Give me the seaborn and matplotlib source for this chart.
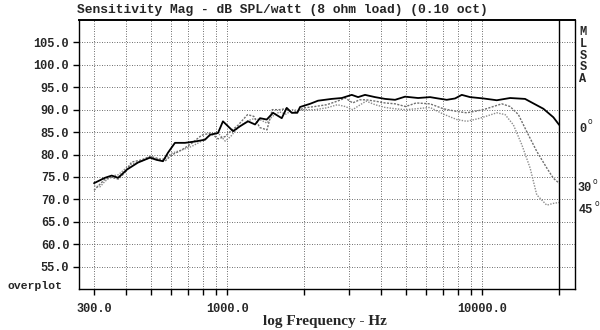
import matplotlib
matplotlib.use("Agg")
import matplotlib.pyplot as plt
import matplotlib.ticker as mticker
import numpy as np
import pandas as pd
import seaborn as sns

# On-axis (0 deg) sensitivity, 1/10-octave smoothed
freq_0 = [300, 331, 352, 373, 403, 446, 497, 528, 559, 585, 623, 682, 747, 817,
          855, 919, 961, 1053, 1121, 1205, 1284, 1343, 1427, 1510, 1634, 1709,
          1788, 1880, 1928, 2109, 2267, 2566, 2809, 3074, 3255, 3466, 3794, 4153,
          4546, 4975, 5594, 6233, 6701, 7248, 7812, 8300, 8947, 10090, 11385,
          12840, 14695, 15840, 17343, 18978, 20000]
spl_0 = [73.6, 74.8, 75.3, 74.8, 76.6, 78.2, 79.3, 78.8, 78.5, 80.4, 82.6, 82.6,
         82.9, 83.3, 84.4, 84.8, 87.4, 85.2, 86.3, 87.4, 86.7, 88.1, 87.8, 89.3,
         88.1, 90.4, 89.3, 89.3, 90.6, 91.3, 92.0, 92.4, 92.6, 93.3, 92.8, 93.3,
         92.8, 92.4, 92.2, 92.9, 92.6, 92.8, 92.5, 92.2, 92.5, 93.3, 92.8, 92.5,
         92.1, 92.6, 92.4, 91.4, 90.2, 88.3, 86.6]

# 30 deg off-axis
freq_30 = [300, 317, 331, 352, 374, 397, 421, 461, 497, 528, 569, 605, 662, 725,
           793, 860, 920, 980, 1030, 1100, 1200, 1270, 1340, 1430, 1500, 1600,
           1700, 1800, 1900, 2000, 2200, 2450, 2700, 2900, 3100, 3300, 3500, 3800,
           4150, 4550, 5000, 5500, 6233, 7033, 7933, 8683, 10090, 11913, 12840,
           13840, 14925, 16335, 17880, 18978, 20000]
spl_30 = [72.0, 73.4, 74.5, 74.9, 74.5, 76.0, 78.3, 78.8, 79.6, 79.2, 78.5, 79.9,
          81.0, 82.5, 84.3, 84.8, 83.5, 84.0, 85.2, 86.5, 88.9, 88.5, 86.0, 85.5,
          90.0, 90.0, 90.2, 89.3, 89.8, 90.4, 90.7, 91.1, 91.9, 92.6, 91.5, 92.2,
          92.2, 91.9, 91.5, 91.3, 90.7, 91.5, 91.3, 90.2, 89.6, 89.3, 90.0, 91.3,
          90.7, 88.9, 85.1, 80.7, 77.0, 74.7, 73.6]

# 45 deg off-axis
freq_45 = [300, 317, 331, 352, 374, 397, 421, 461, 497, 528, 569, 605, 662, 725,
           793, 860, 920, 980, 1030, 1100, 1200, 1270, 1340, 1430, 1500, 1600,
           1700, 1800, 1900, 2000, 2200, 2450, 2700, 2900, 3100, 3300, 3500, 3800,
           4150, 4550, 5000, 5500, 6233, 7033, 7933, 8683, 9796, 11385, 12276,
           13230, 14268, 15381, 16335, 17880, 18978, 20000]
spl_45 = [73.0, 72.8, 74.0, 75.2, 75.5, 76.8, 77.8, 78.5, 79.3, 79.0, 79.0, 80.3,
          81.0, 81.8, 83.0, 84.3, 84.8, 83.0, 84.0, 86.0, 87.5, 88.0, 87.8, 87.0,
          88.5, 89.5, 89.0, 90.0, 89.8, 90.0, 90.0, 90.4, 91.1, 90.7, 90.0, 91.0,
          91.9, 91.1, 90.5, 90.2, 90.0, 90.2, 90.5, 89.0, 87.8, 87.4, 88.1, 89.3,
          88.9, 86.6, 82.2, 77.0, 71.0, 68.7, 69.1, 69.3]

grid_freqs = [300, 400, 500, 600, 700, 800, 900, 1000, 2000, 3000, 4000, 5000,
              6000, 7000, 8000, 9000, 10000, 20000]
freq_labels = {300: "300.0", 1000: "1000.0", 10000: "10000.0"}
db_ticks = [55, 60, 65, 70, 75, 80, 85, 90, 95, 100, 105]

title_text = "Sensitivity Mag - dB SPL/watt (8 ohm load) (0.10 oct)"
xlabel_text = "log Frequency - Hz"
side_letters = ["M", "L", "S", "S", "A"]
angle_labels = ["0", "30", "45"]

sns.set_style("white")
plt.rcParams["font.family"] = ["Liberation Mono", "DejaVu Sans Mono"]

W, H = 600, 330
fig = plt.figure(figsize=(W / 100, H / 100), dpi=100)
ax = fig.add_axes([79 / W, 1 - 289 / H, (575 - 79) / W, (289 - 20) / H])

frames = [
    pd.DataFrame({"freq": freq_0, "spl": spl_0}),
    pd.DataFrame({"freq": freq_30, "spl": spl_30}),
    pd.DataFrame({"freq": freq_45, "spl": spl_45}),
]

sns.lineplot(data=frames[2], x="freq", y="spl", ax=ax, color="#8c8c8c",
             linestyle=(0, (1, 1)), lw=1.0, sort=False)
sns.lineplot(data=frames[1], x="freq", y="spl", ax=ax, color="#707070",
             linestyle=(0, (1.5, 1)), lw=1.0, sort=False)
sns.lineplot(data=frames[0], x="freq", y="spl", ax=ax, color="black",
             lw=1.3, sort=False)

ax.set_xscale("log")
ax.set_xlim(262, 23070)
ax.set_ylim(50, 110)

ax.xaxis.set_major_locator(mticker.FixedLocator(grid_freqs))
ax.xaxis.set_minor_locator(mticker.NullLocator())
ax.xaxis.set_major_formatter(
    mticker.FixedFormatter([freq_labels.get(f, "") for f in grid_freqs]))
ax.yaxis.set_major_locator(mticker.FixedLocator(db_ticks))
ax.yaxis.set_major_formatter(mticker.FormatStrFormatter("%.1f"))

ax.grid(True, which="major", color="#3a3a3a", linestyle=(0, (1, 2)), lw=0.6)
ax.axvline(20000, color="black", lw=1.0)

ax.tick_params(axis="both", which="major", direction="out", length=4,
               width=1, color="black", pad=3)
ax.tick_params(axis="y", left=True, labelsize=8.6)
ax.tick_params(axis="x", bottom=True, labelsize=8.6, pad=6)
for lab in ax.get_xticklabels() + ax.get_yticklabels():
    lab.set_fontweight("bold")

for s in ax.spines.values():
    s.set_visible(True)
    s.set_color("black")
    s.set_linewidth(1.0)
ax.spines["top"].set_linewidth(1.4)

ax.set_xlabel("")
ax.set_ylabel("")

fig.text(282 / W, 1 - 10 / H, title_text, ha="center", va="center",
         fontsize=9.4, fontweight="bold")
fig.text(325 / W, 1 - 322 / H, xlabel_text, ha="center", va="center",
         fontsize=11, fontweight="bold", family=["Liberation Serif", "DejaVu Serif"])
fig.text(7 / W, 1 - 286 / H, "overplot", ha="left", va="center",
         fontsize=8.2, fontweight="bold")

for i, ch in enumerate(side_letters):
    fig.text(583 / W, 1 - (32 + i * 11.8) / H, ch, ha="center", va="center",
             fontsize=8.6, fontweight="bold")

# angle labels with a small raised degree ring
angle_pos = [(579, 129), (577, 188), (579, 210)]
for lab, (px, py) in zip(angle_labels, angle_pos):
    fig.text(px / W, 1 - py / H, lab, ha="left", va="center",
             fontsize=8.6, fontweight="bold")
    fig.text((px + 7.2 * len(lab) + 1) / W, 1 - (py - 7) / H, "o",
             ha="left", va="center", fontsize=5.5,
             family=["DejaVu Sans", "Liberation Sans"])

fig.savefig("out.png", dpi=100, facecolor="white")
